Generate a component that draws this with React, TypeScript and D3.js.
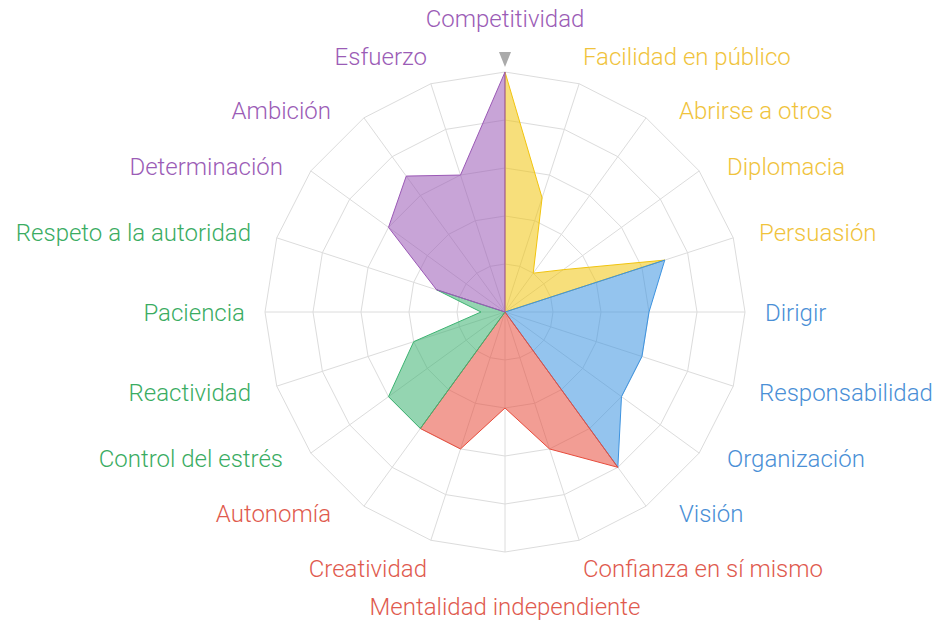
import React from "react";
import * as d3 from "d3";

const axisLabels = [
  "Competitividad",
  "Facilidad en público",
  "Abrirse a otros",
  "Diplomacia",
  "Persuasión",
  "Dirigir",
  "Responsabilidad",
  "Organización",
  "Visión",
  "Confianza en sí mismo",
  "Mentalidad independiente",
  "Creatividad",
  "Autonomía",
  "Control del estrés",
  "Reactividad",
  "Paciencia",
  "Respeto a la autoridad",
  "Determinación",
  "Ambición",
  "Esfuerzo",
];

const axisValues = [100, 50, 20, 30, 70, 60, 60, 60, 80, 60, 40, 60, 60, 60, 40, 10, 30, 60, 70, 60];

const groupColors = ["#f1c40f", "#3d93e0", "#e74c3c", "#3cb371", "#9b59b6"];
const labelColors = ["#f0c33c", "#4a8fd6", "#e05a4e", "#3aac62", "#9b5cb6"];

const ringLevels = [20, 40, 60, 80, 100];

// label placement offsets for one quarter (index 0..5), mirrored for the others
const labelQuarter: [number, number][] = [
  [0, 294],
  [78, 256],
  [174, 201.5],
  [222, 146],
  [254, 80],
  [260, 0],
];

const W = 941;
const H = 632;
const CX = 505;
const CY = 312;
const R = 240;

export default function App() {
  const n = axisLabels.length;
  const rScale = d3.scaleLinear().domain([0, 100]).range([0, R]);
  const aScale = d3.scaleLinear().domain([0, n]).range([0, 2 * Math.PI]);
  const pt = (i: number, v: number): [number, number] => {
    const a = aScale(i % n);
    const r = rScale(v);
    return [CX + r * Math.sin(a), CY - r * Math.cos(a)];
  };
  const line = d3.line().curve(d3.curveLinearClosed);

  const rings = ringLevels.map((lv) =>
    line(d3.range(n).map((i) => pt(i, lv)))
  );

  const groups = groupColors.map((c, g) => {
    const pts: [number, number][] = [[CX, CY]];
    for (let i = 4 * g; i <= 4 * g + 4; i++) pts.push(pt(i, axisValues[i % n]));
    return { color: c, d: line(pts) };
  });

  const labelPos = (i: number) => {
    const q = i <= 5 ? i : i <= 10 ? 10 - i : i <= 15 ? i - 10 : 20 - i;
    const [dx, dy] = labelQuarter[q];
    const sx = i === 0 || i === 10 ? 0 : i < 10 ? 1 : -1;
    const sy = i <= 5 || i >= 15 ? -1 : 1;
    return {
      x: CX + sx * dx,
      y: CY + sy * dy,
      anchor: sx === 0 ? "middle" : sx > 0 ? "start" : "end",
    };
  };

  return (
    <svg
      width={W}
      height={H}
      style={{ position: "absolute", left: 0, top: 0, background: "#fff" }}
      fontFamily="Roboto, sans-serif"
    >
      <g>
        {rings.map((d, k) => (
          <path key={k} d={d || ""} fill="none" stroke="#dcdcdc" strokeWidth={1} />
        ))}
        {d3.range(n).map((i) => {
          const [x, y] = pt(i, 100);
          return <line key={i} x1={CX} y1={CY} x2={x} y2={y} stroke="#dcdcdc" strokeWidth={1} />;
        })}
      </g>
      <g>
        {groups.map((g, k) => (
          <path
            key={k}
            d={g.d || ""}
            fill={g.color}
            fillOpacity={0.55}
            stroke={g.color}
            strokeWidth={1}
            strokeLinejoin="round"
          />
        ))}
      </g>
      <path
        d={`M${CX - 6},${CY - R - 20}L${CX + 6},${CY - R - 20}L${CX},${CY - R - 5}Z`}
        fill="#aaaaaa"
      />
      <g fontSize={24} fontWeight={300}>
        {axisLabels.map((lab, i) => {
          const p = labelPos(i);
          const g = Math.floor(((i + n - 1) % n) / 4);
          return (
            <text
              key={i}
              x={p.x}
              y={p.y}
              dy="0.36em"
              textAnchor={p.anchor}
              fill={labelColors[g]}
            >
              {lab}
            </text>
          );
        })}
      </g>
    </svg>
  );
}
